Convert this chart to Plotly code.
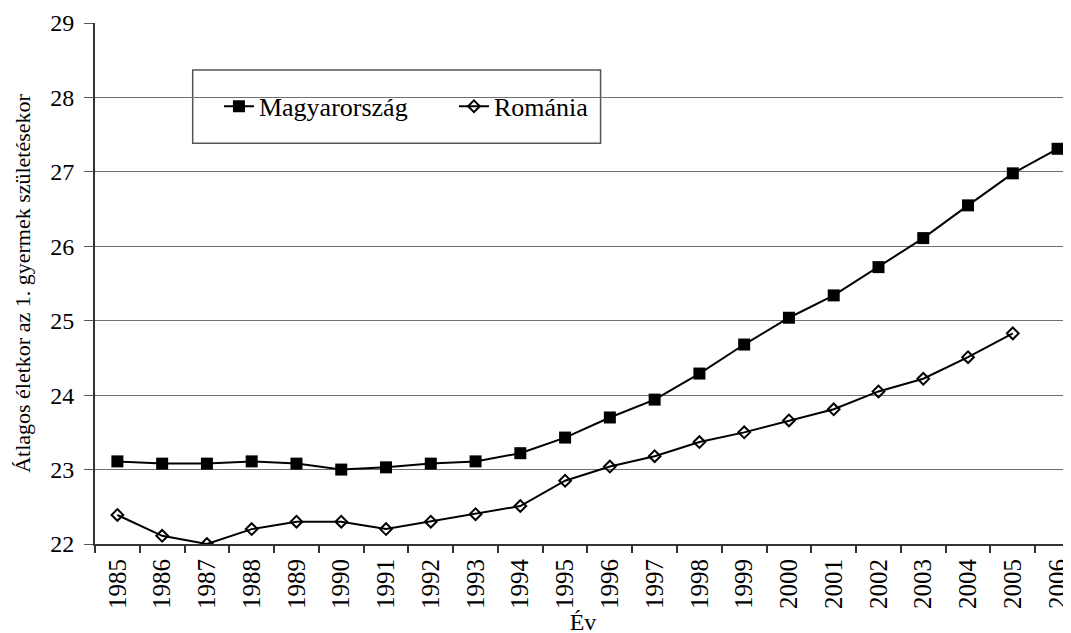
import plotly.graph_objects as go

# Átlagos életkor az első gyermek születésekor
years = [str(y) for y in range(1985, 2007)]
magyarorszag = [23.11, 23.08, 23.08, 23.11, 23.08, 23.00, 23.03, 23.08, 23.11, 23.22, 23.43,
                23.70, 23.94, 24.29, 24.68, 25.04, 25.34, 25.72, 26.11, 26.55, 26.98, 27.31]
romania = [22.39, 22.11, 22.00, 22.20, 22.30, 22.30, 22.20, 22.30, 22.40, 22.51, 22.85,
           23.04, 23.18, 23.37, 23.50, 23.66, 23.81, 24.05, 24.22, 24.51, 24.83, None]

y_ticks = [22, 23, 24, 25, 26, 27, 28, 29]

font_family = "Liberation Serif, Times New Roman, serif"

fig = go.Figure()

fig.add_trace(go.Scatter(x=years, y=magyarorszag, name="Magyarország", mode="lines+markers",
                         line=dict(color="black", width=2),
                         marker=dict(symbol="square", size=12, color="black")))
fig.add_trace(go.Scatter(x=years, y=romania, name="Románia", mode="lines+markers",
                         line=dict(color="black", width=2),
                         marker=dict(symbol="diamond-open", size=9, color="black",
                                     line=dict(width=2))))

# the page body has an 8px margin, so the margins are shifted by that much
fig.update_layout(
    width=1071, height=633,
    margin=dict(l=87, r=8, t=15, b=97, autoexpand=False),
    plot_bgcolor="white", paper_bgcolor="white",
    font=dict(family=font_family, color="black", size=24),
    showlegend=True,
    legend=dict(orientation="h", x=0.127, y=0.84, xanchor="left", yanchor="middle",
                bgcolor="rgba(0,0,0,0)", font=dict(size=26), itemwidth=30,
                entrywidthmode="pixels", entrywidth=190),
)

# legend frame drawn as a box
fig.add_shape(type="rect", xref="paper", yref="paper", x0=0.1001, x1=0.518, y0=0.769, y1=0.9098,
              line=dict(color="#555555", width=1.5), fillcolor="white", layer="below")

fig.update_xaxes(type="category", range=[-0.5, 21.3], tickson="boundaries", ticks="outside",
                 ticklen=7, tickcolor="#333333", tickwidth=1.5, tickangle=-90,
                 ticklabelstandoff=3, showline=True, linecolor="#333333", linewidth=2,
                 showgrid=False, tickfont=dict(size=25),
                 title=dict(text="Év", font=dict(size=24), standoff=0))
fig.update_yaxes(range=[22, 29], tickvals=y_ticks, ticks="outside", ticklen=9,
                 tickcolor="#555555", ticklabelstandoff=5, showline=True,
                 linecolor="#333333", linewidth=2, showgrid=True, gridcolor="#707070",
                 gridwidth=1, tickfont=dict(size=24), zeroline=False,
                 title=dict(text="Átlagos életkor az 1. gyermek születésekor", font=dict(size=22),
                            standoff=14))

fig.write_html("out.html")
